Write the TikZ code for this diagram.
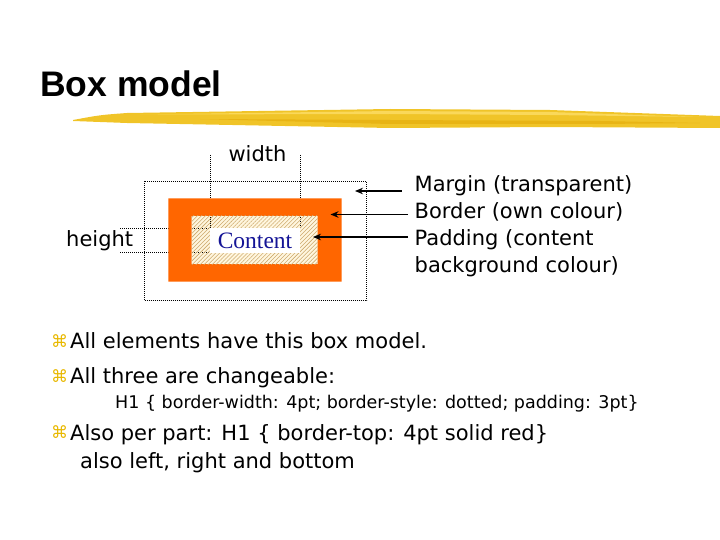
\documentclass[tikz,border=0pt]{standalone}
\usepackage{fontspec}
\setmainfont{DejaVu Sans}
\newfontfamily\titlefont{Liberation Sans}
\newfontfamily\contentfont{Liberation Serif}
\newfontfamily\symfont{DejaVu Sans}
\usetikzlibrary{arrows.meta,patterns.meta}
\definecolor{brushyellow}{RGB}{240,196,40}
\definecolor{brushlight}{RGB}{250,216,90}
\definecolor{brushdark}{RGB}{232,180,20}
\definecolor{boxorange}{RGB}{255,102,0}
\definecolor{padcream}{RGB}{255,246,222}
\definecolor{padhatch}{RGB}{205,170,110}
\definecolor{contentblue}{RGB}{20,20,150}
\definecolor{bulletyellow}{RGB}{232,184,0}
\tikzset{
  lbl/.style={anchor=base west, inner sep=0pt, font=\fontsize{21}{25}\selectfont},
  bodytext/.style={anchor=base west, inner sep=0pt, font=\fontsize{21}{25}\selectfont},
  subtext/.style={anchor=base west, inner sep=0pt, font=\fontsize{17.5}{20}\selectfont},
  bul/.style={anchor=base west, inner sep=0pt, text=bulletyellow, font=\symfont\fontsize{17}{20}\selectfont},
  dotline/.style={line width=0.8pt, dash pattern=on 0.9pt off 1.1pt},
  arr/.style={line width=1.6pt, -{Stealth[length=8pt,width=6.5pt]}}
}
\begin{document}
\begin{tikzpicture}[x=1pt,y=-1pt]
\useasboundingbox (0,0) rectangle (720,540);
% title
\node[anchor=base west, inner sep=0pt, font=\titlefont\bfseries\fontsize{35.5}{40}\selectfont] (title) at (40,97) {Box model};
% brush stroke
\fill[brushyellow] (73,120) .. controls (100,115) .. (127,113) -- (390,109) -- (550,110) -- (720,116) -- (720,128) -- (550,127) -- (390,128) -- (127,123) .. controls (100,122) .. (73,121) -- cycle;
\fill[brushlight] (140,114.5) -- (390,111) -- (550,112) -- (700,117) -- (550,115) -- (390,114) -- cycle;
\fill[brushdark] (200,119) -- (390,120) -- (600,121) -- (700,123) -- (600,124) -- (390,124) -- cycle;
% padding background
\fill[padcream] (191.7,216) rectangle (317.7,264);
% dotted guide lines
\draw[dotline] (144,181) rectangle (366.5,300.5);
\coordinate (wl) at (210,155);
\coordinate (wr) at (300,155);
\coordinate (ht) at (120,228.3);
\coordinate (hb) at (120,252.5);
\draw[dotline] (wl) -- (210,228.3);
\draw[dotline] (wr) -- (300,228.3);
\draw[dotline] (ht) -- (210,228.3);
\draw[dotline] (hb) -- (210,252.5);
% border ring
\fill[boxorange, even odd rule] (168.3,198.3) rectangle (341.7,281.7) (191.7,216) rectangle (317.7,264);
% padding hatch
\fill[pattern={Lines[angle=45,distance=2.8pt,line width=0.55pt]}, pattern color=padhatch] (191.7,216) rectangle (317.7,264);
% content
\node[fill=white, minimum width=90pt, minimum height=24.4pt, inner sep=0pt, text=contentblue, font=\contentfont\fontsize{23.5}{27}\selectfont] (content) at (255,240.5) {Content};
% labels
\node[lbl, anchor=base] (width) at (257.5,162) {width};
\node[lbl] (height) at (66,246.7) {height};
\node[lbl] (margin) at (414.5,191.5) {Margin (transparent)};
\node[lbl] (border) at (414.5,218.5) {Border (own colour)};
\node[lbl] (padding) at (414.5,245.5) {Padding (content};
\node[lbl] (padding2) at (414.5,272.5) {background colour)};
% arrows
\coordinate (ms) at (401.5,191);
\coordinate (mt) at (355,191);
\coordinate (bs) at (408,214.5);
\coordinate (bt) at (330.5,214.5);
\coordinate (ps) at (408,237);
\coordinate (pt) at (313,237);
\draw[arr] (ms) -- (mt);
\draw[arr] (bs) -- (bt);
\draw[arr, line width=1.2pt] (ps) -- (pt);
% bullets
\node[bul] (b1) at (51,347) {⌘};
\node[bodytext] (t1) at (70,348.3) {All elements have this box model.};
\node[bul] (b2) at (51,382) {⌘};
\node[bodytext] (t2) at (70,383.3) {All three are changeable:};
\node[subtext] (t3) at (115,408.3) {H1 \{ border-width: 4pt; border-style: dotted; padding: 3pt\}};
\node[bul] (b3) at (51,438.7) {⌘};
\node[bodytext] (t4) at (70,440) {Also per part: H1 \{ border-top: 4pt solid red\}};
\node[bodytext] (t5) at (80,468.3) {also left, right and bottom};
\end{tikzpicture}
\end{document}
